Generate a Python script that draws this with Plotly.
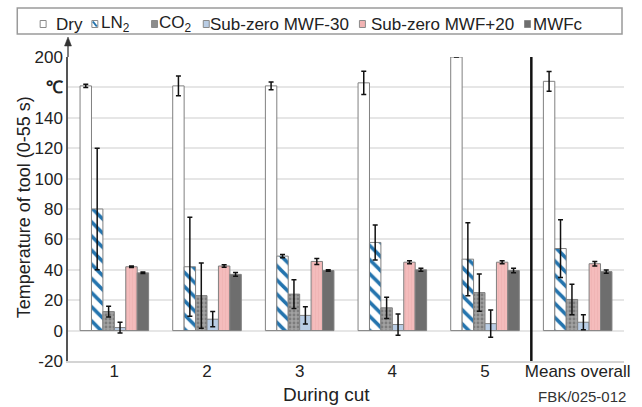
import plotly.graph_objects as go

categories = ["1", "2", "3", "4", "5", "Means overall"]
series_names = ["Dry", "LN<sub>2</sub>", "CO<sub>2</sub>", "Sub-zero MWF-30", "Sub-zero MWF+20", "MWFc"]

dry = [161, 161, 161, 163, 180, 164]
dry_err = [1, 6.5, 2.6, 7.7, 0, 6.5]
ln2 = [80, 42, 49, 58, 47, 54]
ln2_err = [40, 32.5, 1, 11.5, 24, 19]
co2 = [12.5, 23, 24, 15, 25, 20.5]
co2_err = [3.5, 21.5, 9.5, 7, 12.3, 10]
mwf30 = [2, 7.5, 10, 4, 4.6, 5.5]
mwf30_err = [3.5, 5, 5.7, 7, 9, 5]
mwf20 = [42, 42.5, 45.5, 45, 45, 44]
mwf20_err = [0.5, 0.8, 2, 1, 1, 1.5]
mwfc = [38, 37, 39.5, 40, 39.5, 38.8]
mwfc_err = [0.5, 1.2, 0.5, 1, 1.5, 1]

tick_vals = [-20, 0, 20, 40, 60, 80, 100, 120, 140, 160, 180]
tick_text = ["-20", "0", "20", "40", "60", "80", "100", "120", "140", "<b>℃</b>", "200"]

FONT = "Liberation Sans, Arial, sans-serif"
OUT = "#808080"

styles = [
    dict(color="#ffffff", pattern=None),
    dict(color="#ffffff", pattern=dict(shape="\\", fgcolor="#2474ae", bgcolor="#ffffff", size=10, solidity=0.35,
                                       fgopacity=1)),
    dict(color="#909090", pattern=dict(shape=".", fgcolor="#555555", bgcolor="#a2a2a2", size=4, solidity=0.4)),
    dict(color="#b9cde5", pattern=None),
    dict(color="#f2b3b3", pattern=dict(shape="|", fgcolor="#e8a2a2", bgcolor="#f4bcbc", size=3, solidity=0.2)),
    dict(color="#6e6e6e", pattern=None),
]
vals = [dry, ln2, co2, mwf30, mwf20, mwfc]
errs = [dry_err, ln2_err, co2_err, mwf30_err, mwf20_err, mwfc_err]

fig = go.Figure()
for name, v, e, st in zip(series_names, vals, errs, styles):
    marker = dict(color=st["color"], line=dict(color=OUT, width=1))
    if st["pattern"]:
        marker["pattern"] = st["pattern"]
    fig.add_trace(go.Bar(
        x=categories, y=v, name=name, marker=marker, showlegend=False,
        error_y=dict(type="data", array=e, visible=True, color="#111111", thickness=1.5, width=2.5),
    ))

# plot area in pixels
L, R, T, B = 68, 627, 57, 361
W, H = R - L, B - T

def px(xp):
    return (xp - L) / W

def py(yp):
    return (B - yp) / H

shapes = []
annotations = []

# separator line before means
shapes.append(dict(type="line", xref="x", yref="y", x0=4.5, x1=4.5, y0=-20, y1=180,
                   line=dict(color="#111111", width=2.5)))

# legend box
shapes.append(dict(type="rect", xref="paper", yref="paper", x0=px(17), x1=px(625), y0=py(34), y1=py(8),
                   line=dict(color="#9a9a9a", width=1.5), fillcolor="rgba(0,0,0,0)"))

legend_icon_x = [40, 92, 152, 204, 361, 527]
legend_text_x = [54, 99, 157, 209, 371, 534]
icon_fill = ["#ffffff", "#ffffff", "#8c8c8c", "#b9cde5", "#f2b3b3", "#6e6e6e"]
cy = 24
for i, name in enumerate(series_names):
    x0 = legend_icon_x[i]
    shapes.append(dict(type="rect", xref="paper", yref="paper", x0=px(x0), x1=px(x0 + 6),
                       y0=py(cy + 3.5), y1=py(cy - 3.5), fillcolor=icon_fill[i],
                       line=dict(color="#8a8a8a", width=1)))
    if i == 1:
        shapes.append(dict(type="line", xref="paper", yref="paper", x0=px(x0 + 1), x1=px(x0 + 5),
                           y0=py(cy - 2.5), y1=py(cy + 2.5), line=dict(color="#2474ae", width=2)))
    annotations.append(dict(xref="paper", yref="paper", x=px(legend_text_x[i]), y=py(cy),
                            text=name, showarrow=False, xanchor="left", yanchor="middle",
                            font=dict(family=FONT, size=17, color="#222222")))

# axis arrow (line extension + head)
shapes.append(dict(type="line", xref="paper", yref="paper", x0=0, x1=0, y0=1, y1=py(44),
                   line=dict(color="#555555", width=1.5)))
shapes.append(dict(type="path", xref="paper", yref="paper",
                   path=f"M {px(68)} {py(37)} L {px(64.5)} {py(46)} L {px(71.5)} {py(46)} Z",
                   fillcolor="#333333", line=dict(color="#333333", width=0.5)))

# y title
annotations.append(dict(xref="paper", yref="paper", x=px(24), y=py(207), text="Temperature of tool (0-55 s)",
                        textangle=-90, showarrow=False, xanchor="center", yanchor="middle",
                        font=dict(family=FONT, size=18, color="#222222")))
# x title
annotations.append(dict(xref="paper", yref="paper", x=px(328), y=py(394), text="During cut",
                        showarrow=False, xanchor="center", yanchor="middle",
                        font=dict(family=FONT, size=19, color="#222222")))
# code
annotations.append(dict(xref="paper", yref="paper", x=px(631), y=py(396), text="FBK/025-012",
                        showarrow=False, xanchor="right", yanchor="middle",
                        font=dict(family=FONT, size=15, color="#333333")))

fig.update_layout(
    width=642, height=407,
    margin=dict(l=L, r=642 - R, t=T, b=407 - B),
    paper_bgcolor="white", plot_bgcolor="white",
    barmode="group", bargap=0.26, bargroupgap=0,
    font=dict(family=FONT, size=17, color="#222222"),
    shapes=shapes, annotations=annotations,
    xaxis=dict(showgrid=False, showline=True, linecolor="#d4d4d4", linewidth=1.5,
               ticks="", tickfont=dict(size=17, color="#222222"), ticklabelstandoff=-6, fixedrange=True),
    yaxis=dict(range=[-20, 180], tickvals=tick_vals, ticktext=tick_text, showgrid=True,
               gridcolor="#e6e6e6", gridwidth=1.5, zeroline=False, showline=True, linecolor="#555555",
               linewidth=1.5, ticks="", tickfont=dict(size=17, color="#222222"), fixedrange=True),
)

fig.write_html("out.html", config={"displayModeBar": False},
               post_script="document.body.style.margin='0';document.body.style.overflow='hidden';")
